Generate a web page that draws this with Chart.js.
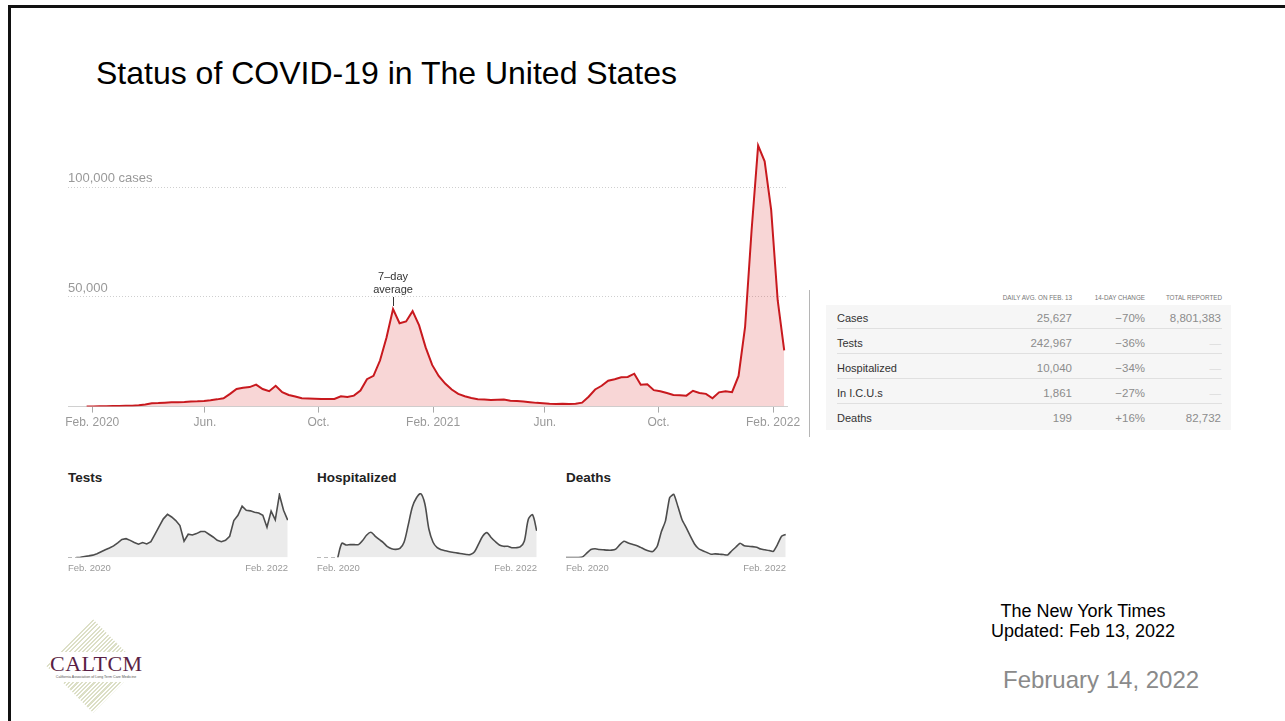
<!DOCTYPE html>
<html>
<head>
<meta charset="utf-8">
<script src="https://cdn.jsdelivr.net/npm/chart.js@4.4.1/dist/chart.umd.min.js"></script>
<style>
  body { margin: 0; width: 1285px; height: 721px; overflow: hidden; background: #fff;
         font-family: "Liberation Sans", Arial, sans-serif; position: relative; }
  .frame { position: absolute; left: 8px; top: 5px; right: -10px; bottom: -10px;
           border-top: 3px solid #111; border-left: 3px solid #111; }
  h1 { position: absolute; left: 96px; top: 55px; margin: 0; font-weight: normal;
       font-size: 32px; line-height: 36px; color: #000; white-space: nowrap; }
  canvas { position: absolute; }
  .mini-title { position: absolute; top: 470px; font-weight: bold; font-size: 13.5px;
                line-height: 16px; color: #222; }
  .divider { position: absolute; left: 809px; top: 290px; width: 1px; height: 147px; background: #b5b5b5; }
  .tbl-head { position: absolute; top: 293px; font-size: 6.3px; line-height: 9px; color: #777;
              text-align: right; white-space: nowrap; }
  .tbl { position: absolute; left: 826px; top: 305px; width: 405px; height: 125px; background: #f6f6f6; }
  .row { position: absolute; left: 11px; width: 385px; height: 24px; }
  .row.sep { border-bottom: 1px solid #e0e0e0; }
  .row span { position: absolute; top: 0; line-height: 28px; white-space: nowrap; }
  .row .lbl { left: 0; font-size: 11px; color: #333; }
  .row .num { font-size: 11.5px; color: #8c8c8c; text-align: right; }
  .row .none { color: #dcdcdc; }
  .source { position: absolute; left: 973px; top: 601px; width: 220px; text-align: center;
            font-size: 18px; line-height: 20px; color: #000; }
  .date { position: absolute; left: 1003px; top: 666px; font-size: 24px; line-height: 28px; color: #8a8a8a; white-space: nowrap; }
  .logo-diamond { position: absolute; left: 60px; top: 633px; width: 66px; height: 66px;
                  transform: rotate(45deg);
                  background: repeating-linear-gradient(90deg, #dcdfc6 0 1.5px, #ffffff 1.5px 3px); }
  .logo-box { position: absolute; left: 50px; top: 652px; width: 92px; height: 30px; background: #fff; }
  .logo-name { position: absolute; left: 0; top: 1px; width: 92px; text-align: center;
               font-family: "Liberation Serif", "DejaVu Serif", serif; font-size: 22px; line-height: 22px;
               color: #5b1f45; letter-spacing: 0.5px; }
  .logo-sub { position: absolute; left: 0; top: 23px; width: 92px; text-align: center;
              font-size: 3.6px; line-height: 5px; color: #555; white-space: nowrap; }
</style>
</head>
<body>
<div class="frame"></div>
<h1>Status of COVID-19 in The United States</h1>

<canvas id="cases" width="760" height="303" style="left:60px;top:130px;width:760px;height:303px"></canvas>
<div class="divider"></div>

<div id="table-head"></div>
<div class="tbl" id="table"></div>

<div class="mini-title" style="left:68px">Tests</div>
<div class="mini-title" style="left:317px">Hospitalized</div>
<div class="mini-title" style="left:566px">Deaths</div>
<canvas id="tests" width="240" height="91" style="left:60px;top:488px;width:240px;height:91px"></canvas>
<canvas id="hosp" width="240" height="91" style="left:309px;top:488px;width:240px;height:91px"></canvas>
<canvas id="deaths" width="240" height="91" style="left:558px;top:488px;width:240px;height:91px"></canvas>

<div class="source">The New York Times<br>Updated: Feb 13, 2022</div>
<div class="date">February 14, 2022</div>

<div class="logo-diamond"></div>
<div class="logo-box">
  <div class="logo-name">CALTCM</div>
  <div class="logo-sub">California Association of Long Term Care Medicine</div>
</div>

<script>
// days are counted from Feb. 1, 2020
var caseStartDay = -6;           // first weekly reading, Jan. 26, 2020
var weeklyCases = [
  100, 100, 200, 200, 300, 300, 400, 400, 600, 1000,
  1500, 1600, 1800, 2000, 2000, 2100, 2300, 2400, 2600, 2900,
  3300, 3800, 5800, 8000, 8600, 8900, 10000, 8000, 7000, 9500,
  6600, 5300, 4600, 3800, 3700, 3600, 3500, 3500, 3500, 4700,
  4400, 5000, 7300, 12500, 14000, 21000, 31500, 44500, 38000, 38800,
  43500, 37000, 27000, 19000, 14000, 10500, 7800, 5800, 4700, 3900,
  3400, 3200, 3000, 3100, 3200, 2700, 2500, 2300, 2000, 1700,
  1500, 1300, 1200, 1300, 1200, 1300, 1800, 4500, 7800, 9500,
  11800, 12500, 13400, 13500, 15000, 10000, 10200, 7500, 7000, 6200,
  5300, 5200, 5000, 7200, 6200, 5800, 3800, 6500, 7000, 6600,
  14000, 36300, 80500, 119000, 111800, 89700, 48500, 25627
];
var monthTickDays = [0, 121, 243, 366, 486, 608, 731];
var monthTickLabels = ['Feb. 2020', 'Jun.', 'Oct.', 'Feb. 2021', 'Jun.', 'Oct.', 'Feb. 2022'];
var caseTickValues = [50000, 100000];
var caseTickLabels = ['50,000', '100,000 cases'];
var noteIndex = 47;              // week the "7-day average" label points at

// small panels: one reading every 14 days from Feb. 1, 2020 (null = not yet reported)
var testsK = [
  null, null, 0, 2, 7, 11, 16, 25, 38, 51,
  63, 76, 96, 118, 123, 112, 98, 87, 98, 89,
  103, 152, 203, 252, 281, 264, 241, 208, 107, 152,
  147, 156, 170, 170, 152, 134, 112, 103, 112, 139,
  241, 275, 335, 308, 304, 295, 290, 275, 197, 302,
  246, 409, 308, 243
];
var hospitalized = [
  null, null, null, null, null, 0, 5400, 4760, 4890, 4890,
  4890, 6440, 8500, 9520, 8110, 6820, 5660, 4120, 3350, 3090,
  3470, 5790, 12230, 19050, 22520, 24070, 20330, 10680, 5790, 3730,
  2960, 2570, 2190, 1930, 1670, 1420, 1160, 1160, 2190, 5150,
  8110, 9400, 7590, 6050, 4760, 4250, 4250, 3730, 3730, 3990,
  6180, 14540, 16090, 10040
];
var deaths = [
  0, 0, 0, 0, 6, 38, 70, 76, 70, 67,
  64, 64, 73, 111, 140, 126, 114, 105, 88, 70,
  56, 53, 97, 222, 316, 515, 544, 439, 325, 257,
  184, 117, 76, 59, 44, 29, 32, 29, 26, 23,
  59, 91, 123, 102, 97, 94, 88, 73, 67, 61,
  53, 111, 184, 199
];
var miniTickLabels = ['Feb. 2020', 'Feb. 2022'];

var tableColumns = ['DAILY AVG. ON FEB. 13', '14-DAY CHANGE', 'TOTAL REPORTED'];
var tableLabels = ['Cases', 'Tests', 'Hospitalized', 'In I.C.U.s', 'Deaths'];
var tableDaily = ['25,627', '242,967', '10,040', '1,861', '199'];
var tableChange = ['\u221270%', '\u221236%', '\u221234%', '\u221227%', '+16%'];
var tableTotal = ['8,801,383', null, null, null, '82,732'];

var FONT = '"Liberation Sans", Arial, sans-serif';

// summary table
var colRight = [1072, 1145, 1222];
var head = document.getElementById('table-head');
tableColumns.forEach(function (t, c) {
  var d = document.createElement('div');
  d.className = 'tbl-head';
  d.textContent = t;
  d.style.right = (1285 - colRight[c]) + 'px';
  head.appendChild(d);
});
var table = document.getElementById('table');
tableLabels.forEach(function (name, r) {
  var row = document.createElement('div');
  row.className = 'row' + (r < tableLabels.length - 1 ? ' sep' : '');
  row.style.top = (25 * r - 1) + 'px';
  var cells = [tableDaily[r], tableChange[r], tableTotal[r]];
  var html = '<span class="lbl">' + name + '</span>';
  cells.forEach(function (v, c) {
    var right = 826 + 11 + 385 - colRight[c];
    html += '<span class="num' + (v === null ? ' none' : '') + '" style="right:' + (right + (c === 2 ? 1 : 0)) + 'px">' +
            (v === null ? '\u2014' : v) + '</span>';
  });
  row.innerHTML = html;
  table.appendChild(row);
});

// "7-day average" callout above the winter peak
var noteLabel = {
  id: 'noteLabel',
  afterDatasetsDraw: function (chart) {
    var pt = chart.getDatasetMeta(0).data[noteIndex];
    var ctx = chart.ctx;
    ctx.save();
    ctx.strokeStyle = '#333';
    ctx.lineWidth = 1;
    ctx.beginPath();
    ctx.moveTo(Math.round(pt.x) + 0.5, pt.y - 12);
    ctx.lineTo(Math.round(pt.x) + 0.5, pt.y - 3);
    ctx.stroke();
    ctx.fillStyle = '#333';
    ctx.font = '11px ' + FONT;
    ctx.textAlign = 'center';
    ctx.textBaseline = 'middle';
    ctx.fillText('7\u2013day', pt.x, pt.y - 32);
    ctx.fillText('average', pt.x, pt.y - 19);
    ctx.restore();
  }
};

new Chart(document.getElementById('cases'), {
  type: 'line',
  data: {
    datasets: [{
      data: weeklyCases.map(function (v, i) { return { x: caseStartDay + 7 * i, y: v }; }),
      borderColor: '#c8191e',
      borderWidth: 2,
      backgroundColor: 'rgba(220, 50, 50, 0.2)',
      fill: 'origin',
      pointRadius: 0,
      tension: 0
    }]
  },
  options: {
    responsive: false,
    animation: false,
    layout: { padding: { left: 8, right: 33, top: 9, bottom: 0 } },
    plugins: { legend: { display: false }, tooltip: { enabled: false } },
    scales: {
      x: {
        type: 'linear', min: -26, max: 746,
        afterBuildTicks: function (s) { s.ticks = monthTickDays.map(function (v) { return { value: v }; }); },
        grid: { drawOnChartArea: false, drawTicks: true, tickLength: 6, color: '#aaa' },
        border: { display: true, color: '#d0d0d0' },
        ticks: {
          autoSkip: false, maxRotation: 0, padding: 3, color: '#999',
          font: { size: 12, family: FONT },
          callback: function (v) { return monthTickLabels[monthTickDays.indexOf(v)]; }
        }
      },
      y: {
        min: 0, max: 122000,
        afterBuildTicks: function (s) { s.ticks = caseTickValues.map(function (v) { return { value: v }; }); },
        grid: { color: '#cfcfcf', drawTicks: false },
        border: { display: false, dash: [1, 2] },
        ticks: {
          mirror: true, padding: 0, labelOffset: -9, color: '#999',
          font: { size: 13, family: FONT },
          callback: function (v) { return caseTickLabels[caseTickValues.indexOf(v)]; }
        }
      }
    }
  },
  plugins: [noteLabel]
});

function miniChart(id, values, yMax, tension) {
  var missing = values.map(function (v, k) {
    return (v === null || (k > 0 && values[k - 1] === null)) ? 0 : null;
  });
  new Chart(document.getElementById(id), {
    type: 'line',
    data: {
      datasets: [{
        data: values.map(function (v, k) { return { x: 14 * k, y: v }; }),
        borderColor: '#4d4d4d',
        borderWidth: 1.6,
        backgroundColor: '#ebebeb',
        fill: 'origin',
        pointRadius: 0,
        tension: tension
      }, {
        data: missing.map(function (v, k) { return { x: 14 * k, y: v }; }),
        borderColor: '#777',
        borderWidth: 1.2,
        borderDash: [4, 3],
        fill: false,
        pointRadius: 0
      }]
    },
    options: {
      responsive: false,
      animation: false,
      layout: { padding: { left: 8, right: 12, top: 5, bottom: 0 } },
      plugins: { legend: { display: false }, tooltip: { enabled: false } },
      scales: {
        x: {
          type: 'linear', min: 0, max: 743,
          afterBuildTicks: function (s) { s.ticks = [{ value: 0 }, { value: 743 }]; },
          grid: { display: false, drawTicks: false },
          border: { display: false },
          ticks: {
            align: 'inner', maxRotation: 0, autoSkip: false, padding: 5, color: '#999',
            font: { size: 9.5, family: FONT },
            callback: function (v, i) { return miniTickLabels[i]; }
          }
        },
        y: { display: false, min: 0, max: yMax }
      }
    }
  });
}

miniChart('tests', testsK, 420, 0);
miniChart('hosp', hospitalized, 24300, 0.3);
miniChart('deaths', deaths, 555, 0.15);
</script>
</body>
</html>
